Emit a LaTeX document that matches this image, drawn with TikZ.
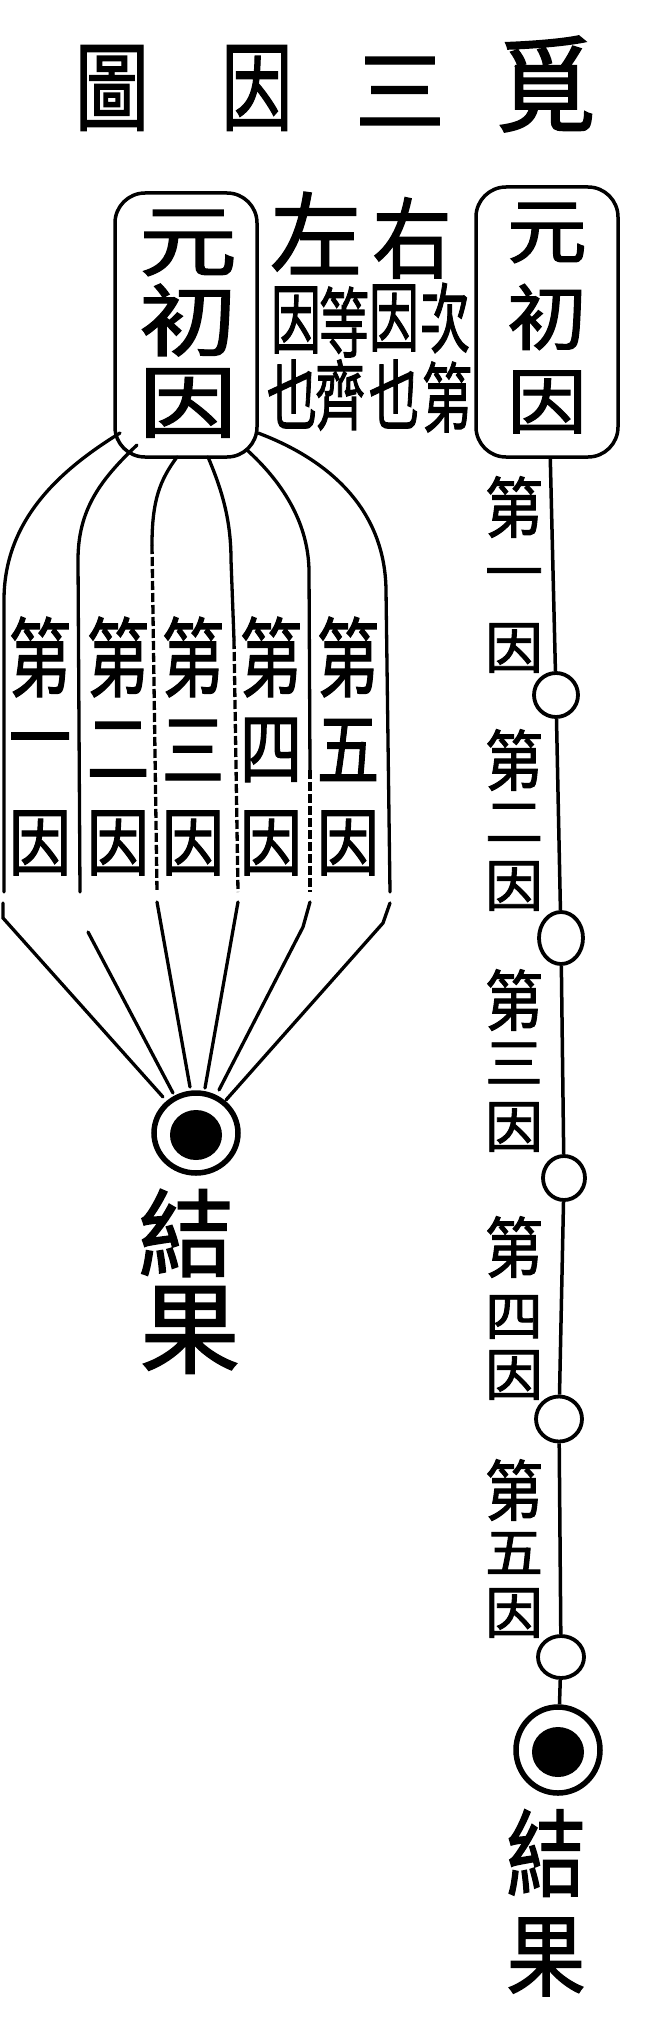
\documentclass[tikz,border=0pt]{standalone}
\usepackage{fontspec}
\newfontfamily\cjk{Noto Sans CJK TC}[FakeBold=1.6]
\usetikzlibrary{shapes.geometric}
\newcommand\sq[3]{\scalebox{#1}[#2]{#3}}
\tikzset{
  zh/.style={inner sep=0pt, outer sep=0pt, font=\cjk\fontsize{#1}{#1}\selectfont},
  fanline/.style={line width=3.3pt, line cap=round},
  dline/.style={line width=3.3pt, dash pattern=on 9pt off 3pt},
  causebox/.style={draw, line width=3.5pt, rounded corners=30pt, inner sep=0pt, minimum width=142pt},
  ring/.style={ellipse, draw, line width=3.8pt, inner sep=0pt, fill=white},
  dot/.style={ellipse, fill=black, inner sep=0pt}
}
\begin{document}
\begin{tikzpicture}[x=1pt, y=-1pt]
\useasboundingbox[fill=white] (0,0) rectangle (655,2028);
% title
\node[zh=95] (t1) at (112,88) {\sq{0.78}{1.02}{圖}};
\node[zh=95] (t2) at (257,88) {\sq{0.75}{1.02}{因}};
\node[zh=95] (t3) at (400,91) {\sq{0.95}{0.95}{三}};
\node[zh=95] (t4) at (546,84) {\sq{1.05}{1.1}{覓}};
% boxes
\node[causebox, minimum height=264pt] (lbox) at (186,325) {};
\node[causebox, minimum height=270pt] (rbox) at (547,322) {};
\node[zh=98] (l1) at (188,243) {\sq{1}{0.8}{元}};
\node[zh=98] (l2) at (188,320) {\sq{1}{0.8}{初}};
\node[zh=98] (l3) at (188,403) {\sq{1}{0.8}{因}};
\node[zh=84] (r1) at (547,233) {\sq{0.95}{0.85}{元}};
\node[zh=84] (r2) at (547,317) {\sq{0.95}{0.85}{初}};
\node[zh=84] (r3) at (547,402) {\sq{0.95}{0.85}{因}};
% explanation
\node[zh=92] (zuo) at (316,233) {左};
\node[zh=88] (you) at (412,238) {\sq{0.9}{1}{右}};
\node[zh=76] (s1) at (296,320) {\sq{0.66}{1}{因}};
\node[zh=76] (s2) at (344,322) {\sq{0.66}{1}{等}};
\node[zh=76] (s3) at (292,394) {\sq{0.66}{1}{也}};
\node[zh=76] (s4) at (340,395) {\sq{0.66}{1}{齊}};
\node[zh=76] (s5) at (394,318) {\sq{0.66}{1}{因}};
\node[zh=76] (s6) at (445,318) {\sq{0.66}{1}{次}};
\node[zh=76] (s7) at (394,394) {\sq{0.66}{1}{也}};
\node[zh=76] (s8) at (447,397) {\sq{0.66}{1}{第}};
% fan columns
\foreach \x/\n/\k in {40/一/a,118/二/b,193/三/c,271/四/d,348/五/e}{
  \node[zh=80] (f\k1) at (\x,657) {\sq{0.78}{1.08}{第}};
  \node[zh=80] (f\k2) at (\x,750) {\sq{0.78}{1}{\n}};
  \node[zh=80] (f\k3) at (\x,843) {\sq{0.78}{0.92}{因}};
}
% fan lines
\coordinate (a0) at (120,433); \coordinate (a1) at (4,600); \coordinate (a2) at (4,892);
\coordinate (a3) at (3,903); \coordinate (a4) at (3,918); \coordinate (a5) at (163,1097);
\coordinate (b0) at (137,445); \coordinate (b1) at (78,560); \coordinate (b2) at (80,892);
\coordinate (b3) at (88,932); \coordinate (b5) at (173,1093);
\coordinate (c0) at (177,457); \coordinate (c1) at (152,545); \coordinate (c2) at (157,892);
\coordinate (c3) at (157,902); \coordinate (c5) at (190,1087);
\coordinate (d0) at (208,457); \coordinate (d1) at (231,560); \coordinate (dm) at (234,640); \coordinate (d2) at (238,892);
\coordinate (d3) at (238,902); \coordinate (d5) at (205,1088);
\coordinate (e0) at (247,450); \coordinate (e1) at (309,570); \coordinate (em) at (310,770); \coordinate (e2) at (310,892);
\coordinate (e3) at (310,902); \coordinate (e4) at (303,927); \coordinate (e5) at (219,1090);
\coordinate (g0) at (258,433); \coordinate (g1) at (386,590); \coordinate (g2) at (390,892);
\coordinate (g3) at (390,903); \coordinate (g4) at (383,923); \coordinate (g5) at (226,1100);
\draw[fanline] (a0) .. controls (60,470) and (4,520) .. (a1) -- (a2);
\draw[fanline] (a3) -- (a4) -- (a5);
\draw[fanline] (b0) .. controls (100,480) and (78,510) .. (b1) -- (b2);
\draw[fanline] (b3) -- (b5);
\draw[fanline] (c0) .. controls (160,480) and (152,500) .. (c1);
\draw[dline] (c1) -- (c2);
\draw[fanline] (c3) -- (c5);
\draw[fanline] (d0) .. controls (222,490) and (231,520) .. (d1) -- (dm);
\draw[dline] (dm) -- (d2);
\draw[fanline] (d3) -- (d5);
\draw[fanline] (e0) .. controls (280,480) and (308,520) .. (e1) -- (em);
\draw[dline] (em) -- (e2);
\draw[fanline] (e3) -- (e4) -- (e5);
\draw[fanline] (g0) .. controls (330,460) and (385,510) .. (g1) -- (g2);
\draw[fanline] (g3) -- (g4) -- (g5);
% left result
\node[ring, line width=5.5pt, minimum width=84pt, minimum height=80pt] (lres) at (196,1133) {};
\node[dot, minimum width=52pt, minimum height=50pt] (lresdot) at (196,1135) {};
\node[zh=100] (lj1) at (186,1233) {\sq{0.95}{0.95}{結}};
\node[zh=100] (lj2) at (190,1330) {\sq{1}{1}{果}};
% right chain
\node[ring, minimum width=44pt, minimum height=44pt] (c1n) at (556,695) {};
\node[ring, minimum width=44pt, minimum height=52pt] (c2n) at (561,938) {};
\node[ring, minimum width=42pt, minimum height=44pt] (c3n) at (564,1178) {};
\node[ring, minimum width=46pt, minimum height=45pt] (c4n) at (559,1419) {};
\node[ring, minimum width=46pt, minimum height=42pt] (c5n) at (561,1657) {};
\node[ring, line width=5.5pt, minimum width=84pt, minimum height=86pt] (rres) at (558,1750) {};
\node[dot, minimum width=52pt, minimum height=50pt] (rresdot) at (558,1752) {};
\draw[line width=3.5pt] (rbox) -- (c1n);
\draw[line width=3.5pt] (c1n) -- (c2n);
\draw[line width=3.5pt] (c2n) -- (c3n);
\draw[line width=3.5pt] (c3n) -- (c4n);
\draw[line width=3.5pt] (c4n) -- (c5n);
\draw[line width=3.5pt] (c5n) -- (rres);
% chain labels
\foreach \ya/\yb/\yc/\n/\k in {507/580/648/一/p,760/823/886/二/q,1000/1063/1127/三/r,1247/1317/1375/四/s,1490/1553/1613/五/t}{
  \node[zh=66] (\k1) at (514,\ya) {\sq{0.88}{1}{第}};
  \node[zh=66] (\k2) at (514,\yb) {\sq{0.88}{0.82}{\n}};
  \node[zh=66] (\k3) at (514,\yc) {\sq{0.88}{0.85}{因}};
}
\node[zh=90] (rj1) at (546,1853) {\sq{0.88}{1.05}{結}};
\node[zh=90] (rj2) at (546,1957) {\sq{0.88}{1}{果}};
\end{tikzpicture}
\end{document}
